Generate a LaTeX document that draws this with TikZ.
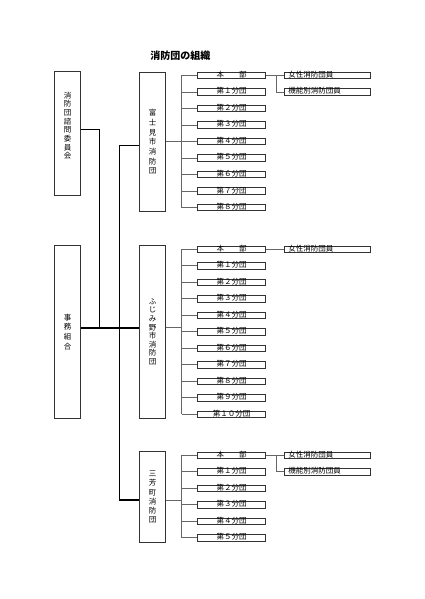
\documentclass[tikz,border=0pt]{standalone}
\usepackage{fontspec}
\setmainfont{Noto Sans CJK JP}
\usetikzlibrary{calc,positioning}
\tikzset{>=stealth}
\tikzset{
  tatebox/.style={draw=black!80,line width=0.8bp,minimum width=26.4bp,inner sep=0pt,align=center},
  bunbox/.style={draw=black!80,line width=0.7bp,minimum width=68.4bp,minimum height=6.4bp,inner sep=0pt,
    text height=5bp,text depth=1bp,font=\fontsize{7.5bp}{8bp}\selectfont},
  inbox/.style={bunbox,minimum width=86.4bp,inner xsep=4bp,text width=78.4bp,align=left},
  futo/.style={line width=1.5bp,black},
  hoso/.style={line width=0.6bp,black!60},
}

\begin{document}
\begin{tikzpicture}[x=1bp,y=-1bp]
\useasboundingbox (0,0) rectangle (424,599);
\node[font=\bfseries\fontsize{10bp}{12bp}\selectfont] (title) at (180.3,55.7) {消防団の組織};

\node[tatebox,minimum height=124bp,font=\fontsize{7.5bp}{8.7bp}\selectfont] (sim) at (67.5,133.7)
  {消\\防\\団\\諮\\問\\委\\員\\会\\[8bp]};
\node[tatebox,minimum height=173bp,font=\fontsize{7.5bp}{9.7bp}\selectfont] (jimu) at (67.5,331.8) {事\\務\\組\\合};
\node[tatebox,minimum height=139.4bp,font=\fontsize{7.5bp}{9.7bp}\selectfont] (fuji) at (152.5,142) {富\\士\\見\\市\\消\\防\\団};
\node[tatebox,minimum height=173bp,font=\fontsize{7.5bp}{8.6bp}\selectfont] (fjmn) at (152.5,331.8) {ふ\\じ\\み\\野\\市\\消\\防\\団};
\node[tatebox,minimum height=91bp,font=\fontsize{7.5bp}{9.2bp}\selectfont] (miyo) at (152.5,497.2) {三\\芳\\町\\消\\防\\団};

\coordinate (a1) at (99.3,129.3);
\coordinate (a2) at (99.3,328);
\coordinate (b1) at (119.3,145.5);
\coordinate (b2) at (119.3,500);
\draw[futo] (sim.east |- a1) -- (a1) -- (a2);
\draw[futo] (jimu.east |- a2) -- (fjmn.west |- a2);
\draw[futo] (fuji.west |- b1) -- (b1) -- (b2) -- (miyo.west |- b2);

\coordinate (tr) at (181.7,0);
\coordinate (hb) at (276,0);

% fujimi
\node[bunbox] (fu0) at (231.5,75.5) {本　　部};
\foreach \i/\t in {1/１,2/２,3/３,4/４,5/５,6/６,7/７,8/８}{
\node[bunbox] (fu\i) at (231.5,{75.5+16.5*\i}) {第\t 分団};
\draw[hoso] (fu\i.west -| tr) -- (fu\i.west);
}
\draw[hoso] (fu0.west) -- (fu0.west -| tr) -- (fu8.west -| tr);
\draw[hoso] (fuji.east |- 0,141) -- (tr |- 0,141);
\node[inbox] (fuj) at (327.5,75.5) {女性消防団員};
\node[inbox] (fuk) at (327.5,92) {機能別消防団員};
\draw[hoso] (fu0.east) -- (fuj.west);
\draw[hoso] (fu0.east -| hb) |- (fuk.west);

% fujimino
\node[bunbox] (fm0) at (231.5,249.2) {本　　部};
\foreach \i/\t in {1/１,2/２,3/３,4/４,5/５,6/６,7/７,8/８,9/９,10/１０}{
\node[bunbox] (fm\i) at (231.5,{249.2+16.5*\i}) {第\t 分団};
\draw[hoso] (fm\i.west -| tr) -- (fm\i.west);
}
\draw[hoso] (fm0.west) -- (fm0.west -| tr) -- (fm10.west -| tr);
\draw[hoso] (fjmn.east |- 0,327) -- (tr |- 0,327);
\node[inbox] (fmj) at (327.5,249.2) {女性消防団員};
\draw[hoso] (fm0.east) -- (fmj.west);

% miyoshi
\node[bunbox] (mi0) at (231.5,455.2) {本　　部};
\foreach \i/\t in {1/１,2/２,3/３,4/４,5/５}{
\node[bunbox] (mi\i) at (231.5,{455.2+16.5*\i}) {第\t 分団};
\draw[hoso] (mi\i.west -| tr) -- (mi\i.west);
}
\draw[hoso] (mi0.west) -- (mi0.west -| tr) -- (mi5.west -| tr);
\draw[hoso] (miyo.east |- b2) -- (tr |- b2);
\node[inbox] (mij) at (327.5,455.2) {女性消防団員};
\node[inbox] (mik) at (327.5,471.7) {機能別消防団員};
\draw[hoso] (mi0.east) -- (mij.west);
\draw[hoso] (mi0.east -| hb) |- (mik.west);
\end{tikzpicture}
\end{document}
